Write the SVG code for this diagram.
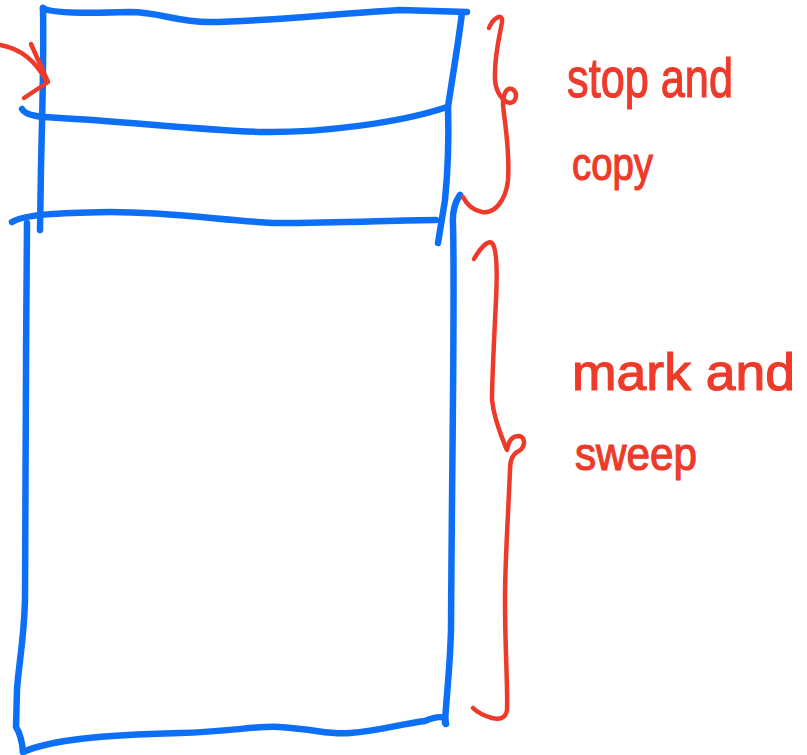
<svg xmlns="http://www.w3.org/2000/svg" width="807" height="755" viewBox="0 0 807 755">
  <style>
    .blue { fill: none; stroke: #0D6EF6; stroke-width: 6.5; stroke-linecap: round; stroke-linejoin: round; }
    .red { fill: none; stroke: #EE3A2A; stroke-width: 4.5; stroke-linecap: round; stroke-linejoin: round; }
    .lbl { font-family: "Liberation Sans", "DejaVu Sans", sans-serif; fill: #EE3A2A; stroke: #EE3A2A; stroke-width: 1.2; }
  </style>
  <rect width="807" height="755" fill="#ffffff"/>
  <g id="stop-and-copy-region">
    <path class="blue" d="M43,8 C50,14 100,13 130,12 C160,12 175,22 210,22 C260,22 330,14 400,10 L467,12"/>
    <path class="blue" d="M43,8 C44,60 42,120 41,167 L40,230"/>
    <path class="blue" d="M462,13 C458,45 452,80 448,107 C449,140 447,180 445,200 L438,243"/>
    <path class="blue" d="M22,109 C26,116 40,117 60,118 C120,121 200,130 260,132 C320,133 400,123 447,107"/>
    <path class="blue" d="M12,222 C25,214 60,213 110,212 C180,212 230,222 280,223 C340,223 400,220 436,220"/>
  </g>
  <g id="mark-and-sweep-region">
    <path class="blue" d="M27,223 C26,350 25,500 25,600 C24,640 18,670 17,690 L16,727 C20,733 22,740 23,752"/>
    <path class="blue" d="M23,752 C50,740 100,735 180,733 C230,732 260,725 280,727 C320,730 330,735 350,733 C380,731 400,724 425,721 C432,718 440,716 445,718 L446,724"/>
    <path class="blue" d="M460,195 C455,202 452,210 453,225 C455,300 452,450 451,630 C450,670 446,700 445,723"/>
  </g>
  <g id="arrow">
    <path class="red" stroke-width="7" d="M0,45 Q30,50 47,82"/>
    <path class="red" stroke-width="7" d="M31,44 L48,82 L24,98"/>
  </g>
  <g id="brace-stop-and-copy">
    <path class="red" d="M489,28 C493,18 503,12 502,22 C500,35 494,55 495,80 C496,92 502,101 510,103 C517,102 518,92 512,89 C506,87 503,95 503,105 C505,125 510,150 508,180 C506,200 495,214 482,212 C472,210 466,203 463,197"/>
  </g>
  <g id="brace-mark-and-sweep">
    <path class="red" d="M474,259 C480,248 488,240 492,243 C498,250 497,280 496,300 C494,340 492,380 492,400 C494,420 502,438 507,450 C509,440 512,436 519,436 C526,437 526,448 517,452 C512,455 510,460 510,470 C508,520 505,560 505,600 C505,650 508,690 507,710 C506,718 500,720 492,718 C485,716 478,713 473,708"/>
  </g>
  <g id="labels">
    <text class="lbl" x="567" y="97" font-size="56" textLength="166" lengthAdjust="spacingAndGlyphs">stop and</text>
    <text class="lbl" x="572" y="180" font-size="46" textLength="81" lengthAdjust="spacingAndGlyphs">copy</text>
    <text class="lbl" x="572" y="390" font-size="52" textLength="223" lengthAdjust="spacingAndGlyphs">mark and</text>
    <text class="lbl" x="575" y="470" font-size="46" textLength="122" lengthAdjust="spacingAndGlyphs">sweep</text>
  </g>
</svg>
